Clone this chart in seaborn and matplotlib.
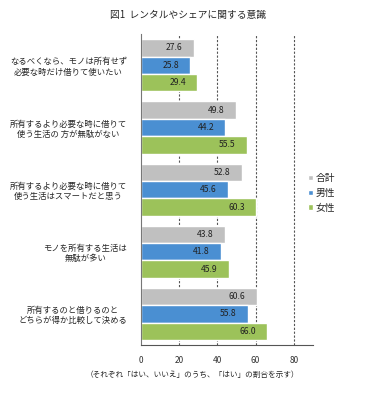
import pandas as pd
import numpy as np
import matplotlib.pyplot as plt
import seaborn as sns

# data
categories = [
    "なるべくなら、モノは所有せず\n必要な時だけ借りて使いたい",
    "所有するより必要な時に借りて\n使う生活の 方が無駄がない",
    "所有するより必要な時に借りて\n使う生活はスマートだと思う",
    "モノを所有する生活は\n無駄が多い",
    "所有するのと借りるのと\nどちらが得か比較して決める",
]
series = ["合計", "男性", "女性"]
total = [27.6, 49.8, 52.8, 43.8, 60.6]
male = [25.8, 44.2, 45.6, 41.8, 55.8]
female = [29.4, 55.5, 60.3, 45.9, 66.0]
x_ticks = [0, 20, 40, 60, 80]

colors = ["#c0c0c0", "#4a8fd2", "#9cc25a"]

rows = []
for i, cat in enumerate(categories):
    for name, vals in zip(series, [total, male, female]):
        rows.append({"cat": cat, "series": name, "value": vals[i]})
df = pd.DataFrame(rows)

sns.set_style("white")
plt.rcParams["font.family"] = ["Noto Sans CJK JP", "DejaVu Sans"]

fig = plt.figure(figsize=(3.84, 3.93), dpi=100)
ax = fig.add_axes([0.367, 0.122, 0.448, 0.791])

sns.barplot(data=df, y="cat", x="value", hue="series", orient="h",
            palette=colors, width=0.84, ax=ax, saturation=1, legend=True)

for cont in ax.containers:
    ax.bar_label(cont, fmt="%.1f", padding=-20, fontsize=6.2, color="#222222")

ax.set_xlim(0, 90)
ax.set_xticks(x_ticks)
ax.tick_params(axis="x", labelsize=6, length=4, direction="inout",
               colors="#333333", pad=6)
ax.tick_params(axis="y", labelsize=6, length=0, pad=10)
for lbl in ax.get_yticklabels():
    lbl.set_multialignment("center")
for v in x_ticks[1:]:
    ax.axvline(v, color="#555555", lw=0.8, ls=(0, (2, 1.5)), zorder=0)

ax.set_xlabel("")
ax.set_ylabel("")
for s in ["top", "right"]:
    ax.spines[s].set_visible(False)
ax.spines["left"].set_color("#777777")
ax.spines["bottom"].set_color("#555555")

leg = ax.legend(loc="center left", bbox_to_anchor=(0.92, 0.49), frameon=False,
                fontsize=7, handlelength=0.5, handleheight=0.5,
                handletextpad=0.3, labelspacing=0.5)

fig.text(0.49, 0.962, "図1  レンタルやシェアに関する意識", ha="center", va="center",
         fontsize=7)
fig.text(0.5, 0.045, "（それぞれ「はい、いいえ」のうち、「はい」の割合を示す）",
         ha="center", va="center", fontsize=5.5)

fig.savefig("out.png", dpi=100)
